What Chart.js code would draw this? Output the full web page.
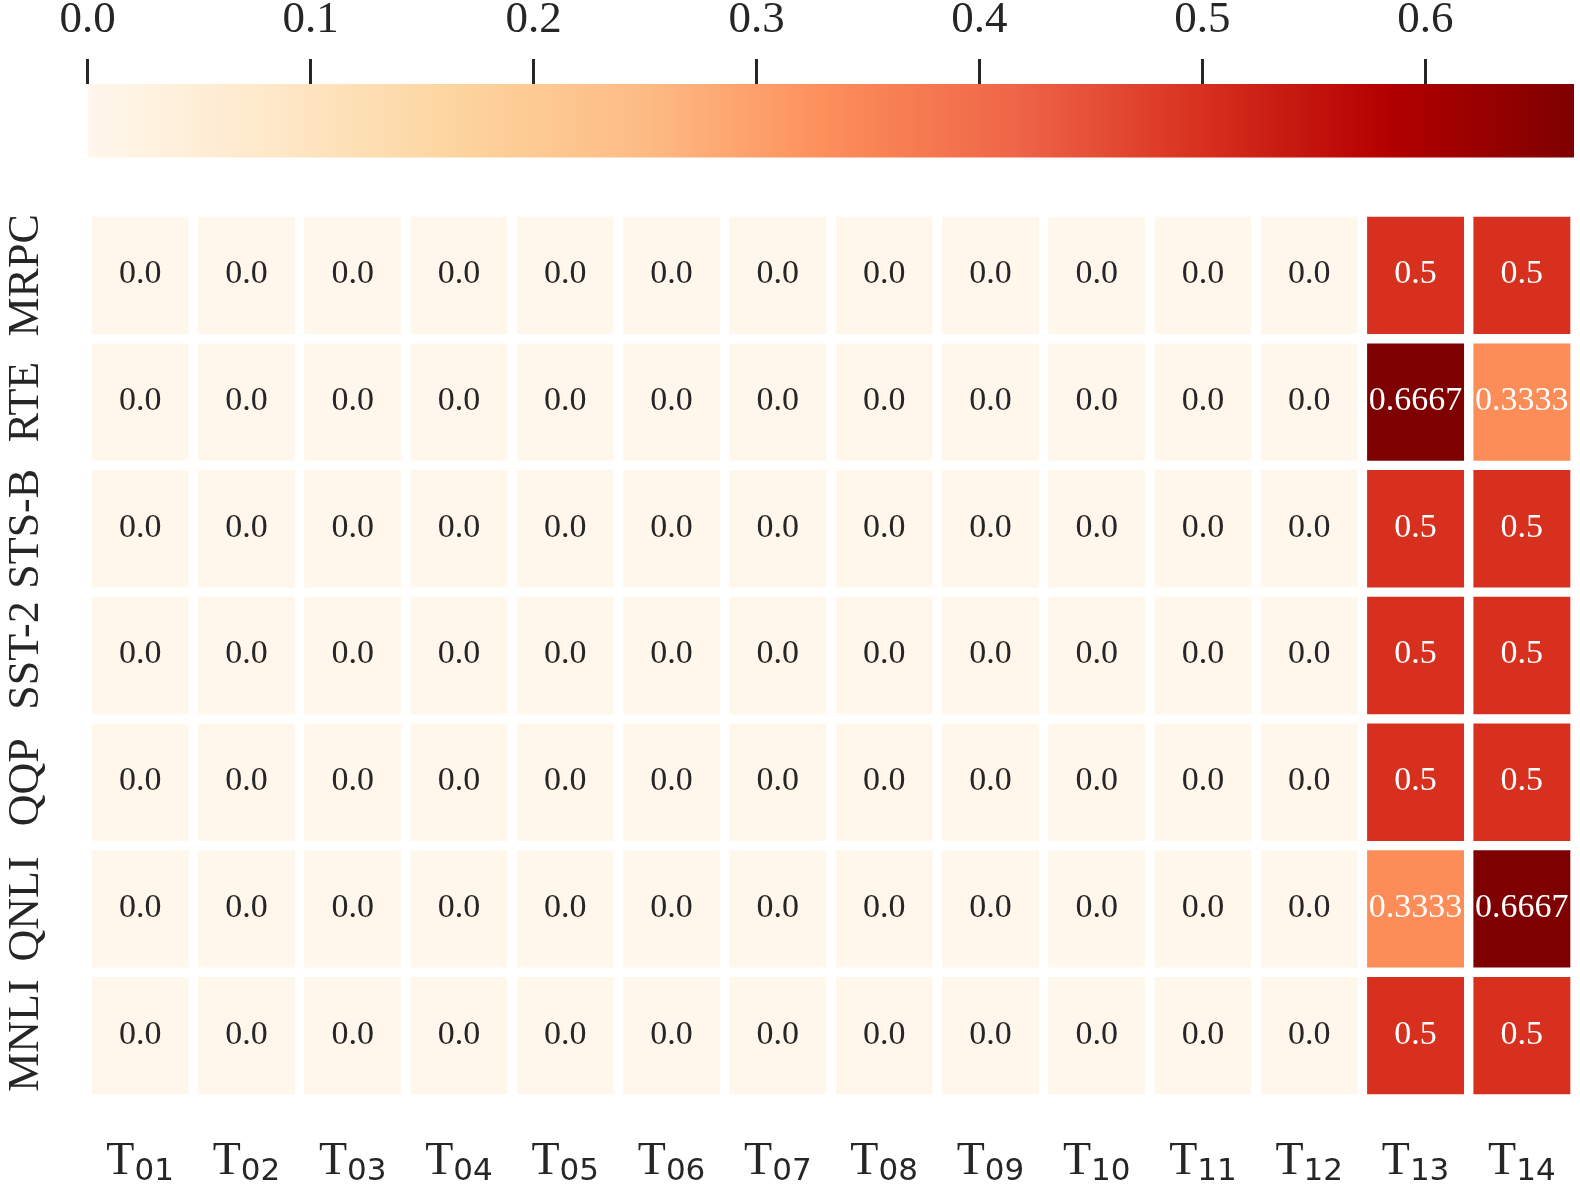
<!DOCTYPE html>
<html>
<head>
<meta charset="utf-8">
<script src="https://cdn.jsdelivr.net/npm/chart.js@4.4.1/dist/chart.umd.min.js"></script>
<style>
  html, body { margin: 0; padding: 0; background: #ffffff; }
  #wrap { position: relative; width: 1580px; height: 1190px; }
  canvas { position: absolute; left: 0; top: 0; }
</style>
</head>
<body>
<div id="wrap">
  <canvas id="heat" width="1580" height="1190"></canvas>
  <canvas id="cbar" width="1580" height="200"></canvas>
</div>
<script>
// columns (tasks) and rows (datasets)
const taskLabels = ['T01', 'T02', 'T03', 'T04', 'T05', 'T06', 'T07', 'T08', 'T09', 'T10', 'T11', 'T12', 'T13', 'T14'];
const rowLabels = ['MRPC', 'RTE', 'STS-B', 'SST-2', 'QQP', 'QNLI', 'MNLI'];

const mrpc = [0, 0, 0, 0, 0, 0, 0, 0, 0, 0, 0, 0, 0.5, 0.5];
const rte  = [0, 0, 0, 0, 0, 0, 0, 0, 0, 0, 0, 0, 0.6667, 0.3333];
const stsb = [0, 0, 0, 0, 0, 0, 0, 0, 0, 0, 0, 0, 0.5, 0.5];
const sst2 = [0, 0, 0, 0, 0, 0, 0, 0, 0, 0, 0, 0, 0.5, 0.5];
const qqp  = [0, 0, 0, 0, 0, 0, 0, 0, 0, 0, 0, 0, 0.5, 0.5];
const qnli = [0, 0, 0, 0, 0, 0, 0, 0, 0, 0, 0, 0, 0.3333, 0.6667];
const mnli = [0, 0, 0, 0, 0, 0, 0, 0, 0, 0, 0, 0, 0.5, 0.5];
const rowValues = [mrpc, rte, stsb, sst2, qqp, qnli, mnli];

const colorMin = 0;
const colorMax = 0.6667;
const colorbarTicks = [0, 0.1, 0.2, 0.3, 0.4, 0.5, 0.6];

// OrRd colormap
const orRd = ['#fff7ec', '#fee8c8', '#fdd49e', '#fdbb84', '#fc8d59', '#ef6548', '#d7301f', '#b30000', '#7f0000'];

const TEXT = '#262626';
const SERIF = '"Liberation Serif", "Times New Roman", serif';

function hexToRgb(h) {
  return [parseInt(h.slice(1, 3), 16), parseInt(h.slice(3, 5), 16), parseInt(h.slice(5, 7), 16)];
}

function colour(v) {
  let t = (v - colorMin) / (colorMax - colorMin);
  t = Math.max(0, Math.min(1, t));
  const pos = t * (orRd.length - 1);
  const i = Math.min(Math.floor(pos), orRd.length - 2);
  const f = pos - i;
  const a = hexToRgb(orRd[i]), b = hexToRgb(orRd[i + 1]);
  const c = a.map((x, k) => Math.round(x + (b[k] - x) * f));
  return 'rgb(' + c.join(',') + ')';
}

function fmt(v) {
  return v === 0 ? '0.0' : String(v);
}

// cell annotations
const cellText = {
  id: 'cellText',
  afterDatasetsDraw(chart) {
    const ctx = chart.ctx;
    ctx.save();
    ctx.font = '34px ' + SERIF;
    ctx.textAlign = 'center';
    ctx.textBaseline = 'middle';
    rowValues.forEach((vals, r) => {
      const meta = chart.getDatasetMeta(r);
      meta.data.forEach((bar, c) => {
        const v = vals[c];
        ctx.fillStyle = v >= 0.3 ? '#ffffff' : TEXT;
        ctx.fillText(fmt(v), bar.x, (bar.y + bar.base) / 2 - 1);
      });
    });
    ctx.restore();
  }
};

// axis labels (rotated row names, T with subscript)
const axisLabels = {
  id: 'axisLabels',
  afterDraw(chart) {
    const ctx = chart.ctx;
    const xs = chart.scales.x, ys = chart.scales.y;
    ctx.save();
    ctx.fillStyle = TEXT;

    ctx.font = '44px ' + SERIF;
    ctx.textAlign = 'center';
    ctx.textBaseline = 'alphabetic';
    rowLabels.forEach((name, r) => {
      const yc = ys.getPixelForValue(r + 0.5);
      ctx.save();
      ctx.translate(38, yc);
      ctx.rotate(-Math.PI / 2);
      ctx.fillText(name, 0, 0);
      ctx.restore();
    });

    ctx.textAlign = 'left';
    taskLabels.forEach((lab, c) => {
      const xc = xs.getPixelForValue(c);
      const main = lab.slice(0, 1), sub = lab.slice(1);
      ctx.font = '46px ' + SERIF;
      const w1 = ctx.measureText(main).width;
      ctx.font = '31px "DejaVu Sans", sans-serif';
      const w2 = ctx.measureText(sub).width;
      const x0 = xc - (w1 + w2) / 2;
      ctx.font = '46px ' + SERIF;
      ctx.fillText(main, x0, 1174);
      ctx.font = '31px "DejaVu Sans", sans-serif';
      ctx.fillText(sub, x0 + w1, 1180);
    });
    ctx.restore();
  }
};

new Chart(document.getElementById('heat'), {
  type: 'bar',
  data: {
    labels: taskLabels,
    datasets: rowLabels.map((name, r) => ({
      label: name,
      data: rowValues[r].map(() => [r, r + 1]),
      backgroundColor: rowValues[r].map(colour),
      borderColor: '#ffffff',
      borderWidth: 5,
      borderSkipped: false,
      barPercentage: 1,
      categoryPercentage: 1,
      grouped: false
    }))
  },
  options: {
    responsive: false,
    animation: false,
    layout: { padding: { left: 87, right: 5, top: 212, bottom: 91 } },
    plugins: { legend: { display: false }, tooltip: { enabled: false } },
    scales: {
      x: { display: false },
      y: { type: 'linear', min: 0, max: rowLabels.length, reverse: true, display: false }
    }
  },
  plugins: [cellText, axisLabels]
});

// colorbar: gradient strip below the top axis, fixed thickness
const colorbarThickness = 73.5;
const gradientFill = {
  id: 'gradientFill',
  beforeDatasetsDraw(chart) {
    const { ctx, chartArea: a } = chart;
    const g = ctx.createLinearGradient(a.left, 0, a.right, 0);
    orRd.forEach((c, i) => g.addColorStop(i / (orRd.length - 1), c));
    ctx.save();
    ctx.fillStyle = g;
    ctx.fillRect(a.left, a.top, a.right - a.left, colorbarThickness);
    ctx.restore();
  }
};

new Chart(document.getElementById('cbar'), {
  type: 'scatter',
  data: { datasets: [{ data: [] }] },
  options: {
    responsive: false,
    animation: false,
    layout: { padding: { left: 87.7, right: 6, top: -18, bottom: 0 } },
    plugins: { legend: { display: false }, tooltip: { enabled: false } },
    scales: {
      x: {
        type: 'linear',
        position: 'top',
        min: colorMin,
        max: colorMax,
        afterBuildTicks(scale) {
          scale.ticks = colorbarTicks.map(v => ({ value: v }));
        },
        ticks: {
          callback: v => v.toFixed(1),
          font: { family: SERIF, size: 45, lineHeight: 1 },
          color: TEXT,
          padding: 16,
          maxRotation: 0,
          autoSkip: false
        },
        grid: { drawOnChartArea: false, drawTicks: true, tickLength: 25, tickWidth: 3, tickColor: TEXT },
        border: { display: false }
      },
      y: { display: false }
    }
  },
  plugins: [gradientFill]
});
</script>
</body>
</html>
